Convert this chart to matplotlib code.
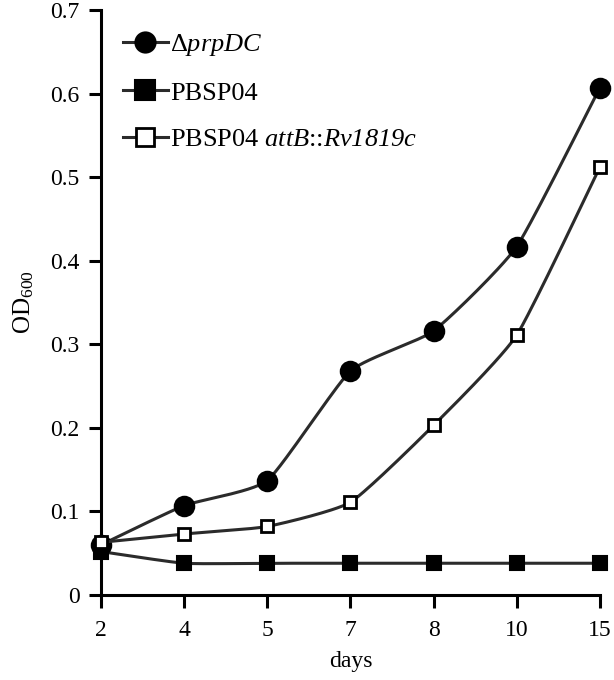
import numpy as np
import matplotlib.pyplot as plt

plt.rcParams["font.family"] = ["Liberation Serif", "DejaVu Serif"]
plt.rcParams["mathtext.fontset"] = "custom"
plt.rcParams["mathtext.rm"] = "Liberation Serif"
plt.rcParams["mathtext.it"] = "Liberation Serif:italic"
# sf used as a "fully italic" face so that digits in Rv1819c slant too
plt.rcParams["mathtext.sf"] = "Liberation Serif:italic"

days = ["2", "4", "5", "7", "8", "10", "15"]
prpdc = [0.060, 0.107, 0.137, 0.268, 0.316, 0.417, 0.607]
pbsp04 = [0.052, 0.038, 0.038, 0.038, 0.038, 0.038, 0.038]
complemented = [0.063, 0.073, 0.082, 0.111, 0.203, 0.311, 0.512]

LINE_COLOR = "#2b2b2b"
FONT_SIZE = 17
FONT_SIZE_LEGEND = 19


def smooth(xs, ys, yscale, tension=0.5, n=30):
    # cardinal spline through the points, in roughly screen-proportional units
    xs = np.asarray(xs, dtype=float)
    ys = np.asarray(ys, dtype=float) * yscale
    pts = np.column_stack([xs, ys])
    pts = np.vstack([pts[0], pts, pts[-1]])
    t = np.linspace(0, 1, n)[:, None]
    h00 = 2 * t**3 - 3 * t**2 + 1
    h10 = t**3 - 2 * t**2 + t
    h01 = -2 * t**3 + 3 * t**2
    h11 = t**3 - t**2
    out = []
    for i in range(1, len(pts) - 2):
        p0, p1, p2, p3 = pts[i - 1], pts[i], pts[i + 1], pts[i + 2]
        m1 = tension * (p2 - p0)
        m2 = tension * (p3 - p1)
        out.append(h00 * p1 + h10 * m1 + h01 * p2 + h11 * m2)
    out = np.vstack(out)
    return out[:, 0], out[:, 1] / yscale


def plot_series(ax, values, marker, face, size, mew, leg_size, z, label):
    pos = np.arange(len(values))
    sx, sy = smooth(pos, values, yscale=10.0, tension=0.25)
    ax.plot(sx, sy, color=LINE_COLOR, lw=2.2, zorder=z, clip_on=False)
    ax.plot(pos, values, ls="none", marker=marker, ms=size, mfc=face,
            mec="black", mew=mew, zorder=z + 0.5, clip_on=False)
    # legend proxy
    ax.plot([], [], color=LINE_COLOR, lw=2.2, marker=marker, ms=leg_size,
            mfc=face, mec="black", mew=mew, label=label)


fig = plt.figure(figsize=(6.14, 6.8), dpi=100)
ax = fig.add_axes([0.1645, 0.125, 0.8125, 0.8603])

plot_series(ax, prpdc, "o", "black", 14, 1.5, 14.5, 3, r"$\Delta\mathsf{prpDC}$")
plot_series(ax, pbsp04, "s", "black", 10, 1.5, 15, 2, "PBSP04")
plot_series(ax, complemented, "s", "white", 9, 2.0, 12.5, 4,
            r"PBSP04 $\mathsf{attB}$::$\mathsf{Rv1819c}$")

ax.set_xlim(0, len(days) - 1)
ax.set_ylim(0, 0.7)
ax.set_xticks(range(len(days)))
ax.set_xticklabels(days)
ax.set_yticks(np.arange(0, 0.71, 0.1))
ax.set_yticklabels(["0", "0.1", "0.2", "0.3", "0.4", "0.5", "0.6", "0.7"])
ax.tick_params(axis="both", labelsize=FONT_SIZE, width=2.2, length=9,
               direction="out", color="black")
ax.tick_params(axis="x", pad=9)
ax.tick_params(axis="y", pad=6.5)

for side in ["top", "right"]:
    ax.spines[side].set_visible(False)
for side in ["left", "bottom"]:
    ax.spines[side].set_linewidth(2.2)

ax.set_xlabel("days", fontsize=FONT_SIZE, labelpad=7)
ax.set_ylabel(r"OD$_{600}$", fontsize=18, labelpad=10)

ax.legend(loc="upper left", bbox_to_anchor=(0.044, 0.962), frameon=False,
          fontsize=FONT_SIZE_LEGEND, handlelength=1.7, handletextpad=0.08,
          labelspacing=0.87, borderaxespad=0, borderpad=0)

fig.savefig("out.png", dpi=100)
